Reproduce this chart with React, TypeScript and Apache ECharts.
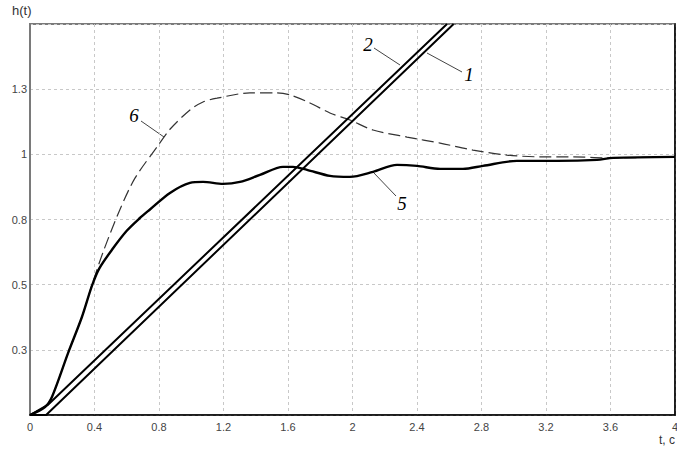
import React, { useEffect, useRef } from "react";
import * as echarts from "echarts";

const xTicks = [0, 0.4, 0.8, 1.2, 1.6, 2, 2.4, 2.8, 3.2, 3.6, 4];
const yTickStep = 0.26;
const yMax = 1.56;

// curve 1 (ramp-like straight line)
const line1: [number, number][] = [
  [0, 0], [0.1, 0.0], [2.627, 1.56],
];
// curve 2 (ramp-like straight line)
const line2: [number, number][] = [
  [0, 0], [0.11, 0.04], [2.586, 1.56],
];
// curve 5 (thick solid)
const curve5: [number, number][] = [
  [0, 0], [0.093, 0.032], [0.136, 0.072], [0.236, 0.247], [0.322, 0.391],
  [0.384, 0.515], [0.43, 0.585], [0.515, 0.665], [0.6, 0.735], [0.68, 0.785],
  [0.744, 0.82], [0.868, 0.886],
  [0.992, 0.926], [1.073, 0.93], [1.197, 0.922], [1.302, 0.93], [1.426, 0.958],
  [1.569, 0.99], [1.631, 0.99], [1.718, 0.978], [1.86, 0.954], [1.984, 0.95],
  [2.127, 0.97], [2.276, 0.998], [2.4, 0.994], [2.543, 0.982], [2.685, 0.982],
  [2.809, 0.994], [3.02, 1.014], [3.268, 1.014], [3.516, 1.018], [3.616, 1.026],
  [4.0, 1.03],
];
// curve 6 (thin dashed)
const curve6: [number, number][] = [
  [0, 0], [0.093, 0.032], [0.136, 0.072], [0.236, 0.247], [0.322, 0.391],
  [0.384, 0.519], [0.459, 0.66], [0.558, 0.82], [0.651, 0.945], [0.794, 1.075],
  [0.868, 1.14], [0.992, 1.217], [1.073, 1.249], [1.16, 1.264], [1.364, 1.285],
  [1.532, 1.285], [1.612, 1.277], [1.736, 1.245], [1.86, 1.205], [1.984, 1.177],
  [2.127, 1.137], [2.338, 1.109], [2.543, 1.085], [2.747, 1.057], [2.958, 1.037],
  [3.163, 1.03], [3.367, 1.03], [3.578, 1.026], [4.0, 1.03],
];

const labelFont = "Liberation Sans, Arial, sans-serif";
const noteFont = "Liberation Serif, Times New Roman, serif";

export default function App() {
  const ref = useRef<HTMLDivElement>(null);
  useEffect(() => {
    if (!ref.current) return;
    const chart = echarts.init(ref.current, null, { renderer: "svg" });
    const grid = "#c8c8c8";
    chart.setOption({
      animation: false,
      backgroundColor: "#ffffff",
      grid: {
        left: 30, top: 24, right: 2, bottom: 39,
        show: true, borderColor: "#7a7a7a", borderWidth: 2,
        outerBoundsMode: "none", containLabel: false,
      },
      xAxis: {
        type: "value", min: 0, max: 4, interval: 0.4,
        axisLine: { show: true, onZero: false, lineStyle: { color: "#000", width: 1.5 } },
        axisTick: { show: false },
        splitLine: { show: true, lineStyle: { color: grid, type: [3, 3], width: 1 } },
        axisLabel: {
          color: "#444", fontFamily: labelFont, fontSize: 11, margin: 6,
          formatter: (v: number) => {
            const r = parseFloat(v.toFixed(1));
            return xTicks.includes(r) ? String(r) : "";
          },
        },
      },
      yAxis: [
        {
          type: "value", min: 0, max: yMax, interval: yTickStep,
          axisLine: { show: true, lineStyle: { color: "#7a7a7a", width: 2 } },
          axisTick: { show: false },
          splitLine: { show: true, lineStyle: { color: grid, type: [3, 3], width: 1 } },
          axisLabel: {
            color: "#444", fontFamily: labelFont, fontSize: 11, margin: 3,
            formatter: (v: number) => (v < 0.01 || v > yMax - 0.01 ? "" : String(parseFloat(v.toFixed(1)))),
          },
        },
        {
          type: "value", min: 0, max: yMax, interval: yTickStep, position: "right",
          axisLine: { show: true, lineStyle: { color: "#000", width: 1.5 } },
          axisTick: { show: false }, axisLabel: { show: false }, splitLine: { show: false },
        },
      ],
      series: [
        {
          name: "6", type: "line", data: curve6, showSymbol: false, smooth: 0.3,
          lineStyle: { color: "#333", width: 1.2, type: [12, 5] },
        },
        {
          name: "5", type: "line", data: curve5, showSymbol: false, smooth: 0.3,
          lineStyle: { color: "#000", width: 2.4 },
        },
        {
          name: "1", type: "line", data: line1, showSymbol: false,
          lineStyle: { color: "#000", width: 2 },
        },
        {
          name: "2", type: "line", data: line2, showSymbol: false,
          lineStyle: { color: "#000", width: 2 },
        },
      ],
      graphic: [
        { type: "text", left: 12, top: 4, style: { text: "h(t)", fill: "#333", font: `13px ${labelFont}` } },
        { type: "text", left: 659, top: 434, style: { text: "t, c", fill: "#333", font: `12px ${labelFont}` } },
        { type: "line", shape: { x1: 374, y1: 48, x2: 400, y2: 65 }, style: { stroke: "#444", lineWidth: 1 } },
        { type: "text", x: 368, y: 44, style: { text: "2", fill: "#000", font: `italic 19px ${noteFont}`, align: "center", verticalAlign: "middle" } },
        { type: "line", shape: { x1: 427, y1: 53, x2: 462, y2: 72 }, style: { stroke: "#444", lineWidth: 1 } },
        { type: "text", x: 469, y: 74, style: { text: "1", fill: "#000", font: `italic 19px ${noteFont}`, align: "center", verticalAlign: "middle" } },
        { type: "line", shape: { x1: 141, y1: 121, x2: 164, y2: 137 }, style: { stroke: "#444", lineWidth: 1 } },
        { type: "text", x: 134, y: 115, style: { text: "6", fill: "#000", font: `italic 19px ${noteFont}`, align: "center", verticalAlign: "middle" } },
        { type: "line", shape: { x1: 373, y1: 172, x2: 396, y2: 196 }, style: { stroke: "#444", lineWidth: 1 } },
        { type: "text", x: 402, y: 203, style: { text: "5", fill: "#000", font: `italic 19px ${noteFont}`, align: "center", verticalAlign: "middle" } },
      ],
    });
    return () => chart.dispose();
  }, []);
  return (
    <div
      ref={ref}
      style={{ position: "fixed", left: 0, top: 0, width: 677, height: 454, background: "#fff" }}
    />
  );
}
